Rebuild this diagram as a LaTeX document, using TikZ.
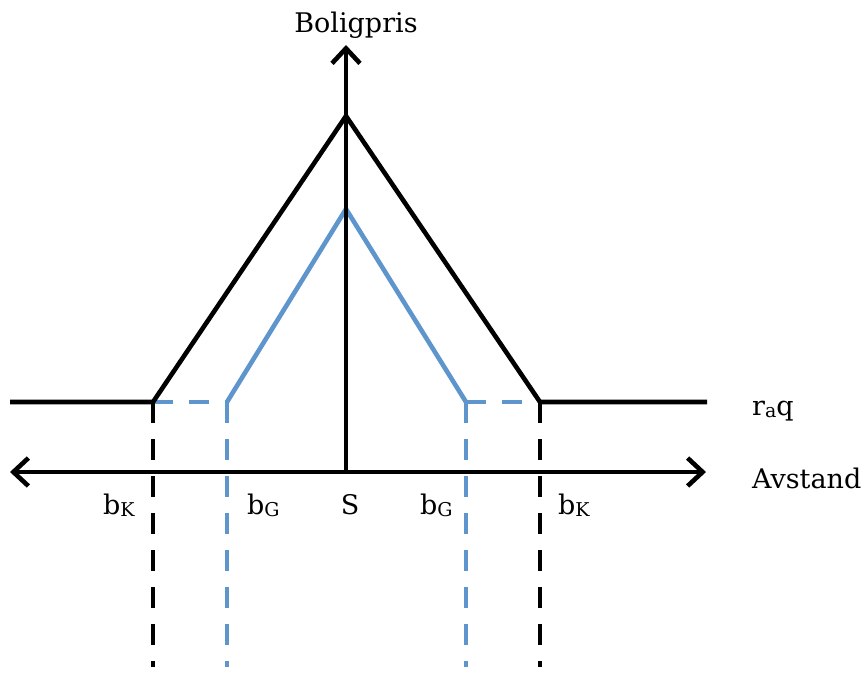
\documentclass[tikz,border=0pt]{standalone}
\usepackage{fontspec}
\setmainfont{DejaVu Serif}
\usetikzlibrary{arrows.meta}
\definecolor{gblue}{RGB}{93,149,204}
\newcommand{\lowsub}[1]{\raisebox{-2.5pt}{\fontsize{19}{19}\selectfont #1}}
\begin{document}
\begin{tikzpicture}[x=1pt,y=-1pt,
  axisline/.style={line width=4.6pt,line cap=butt},
  tipone/.style={axisline,-{Straight Barb[length=15pt,width=28pt]}},
  tiptwo/.style={axisline,{Straight Barb[length=15pt,width=28pt]}-{Straight Barb[length=15pt,width=28pt]}},
  kline/.style={line width=4.6pt,line join=miter},
  gline/.style={line width=4.6pt,gblue,line join=miter},
  kdash/.style={line width=4.6pt,dash pattern=on 21pt off 16pt},
  gdash/.style={line width=4.6pt,gblue,dash pattern=on 21pt off 16pt},
  hdash/.style={line width=4.6pt,gblue,dash pattern=on 20pt off 16pt},
  lbl/.style={font=\fontsize{27}{30}\selectfont,inner sep=0pt}]
\useasboundingbox (0,0) rectangle (861,673);
% coordinates
\coordinate (O) at (346,472);
\coordinate (Top) at (346,45);
\coordinate (L) at (10,472);
\coordinate (R) at (706,472);
\coordinate (Kpk) at (346,116);
\coordinate (Gpk) at (346,209);
\coordinate (KL) at (153,402);
\coordinate (KR) at (540,402);
\coordinate (GL) at (227,402);
\coordinate (GR) at (466,402);
\coordinate (Lend) at (10,402);
\coordinate (Rend) at (707,402);
\coordinate (KLb) at (153,667);
\coordinate (KRb) at (540,667);
\coordinate (GLb) at (227,667);
\coordinate (GRb) at (466,667);
% blue horizontal dashes
\draw[hdash] (KL) -- (GL);
\draw[hdash] (GR) -- (KR);
% vertical dashed lines
\draw[kdash] (KL) -- (KLb);
\draw[kdash] (KR) -- (KRb);
\draw[gdash] (GL) -- (GLb);
\draw[gdash] (GR) -- (GRb);
% curves
\draw[gline] (GL) -- (Gpk) -- (GR);
\draw[kline] (Lend) -- (KL) -- (Kpk) -- (KR) -- (Rend);
% axes
\draw[tiptwo] (L) -- (R);
\draw[tipone] (O) -- (Top);
% labels
\node[lbl,anchor=base] (ylab) at (356,32) {Boligpris};
\node[lbl,anchor=base west] (raq) at (752,415) {r\lowsub{a}q};
\node[lbl,anchor=base west] (xlab) at (752,488) {Avstand};
\node[lbl,anchor=base west] (bk1) at (103,514) {b\lowsub{K}};
\node[lbl,anchor=base west] (bg1) at (247,514) {b\lowsub{G}};
\node[lbl,anchor=base] (S) at (350,514) {S};
\node[lbl,anchor=base west] (bg2) at (420,514) {b\lowsub{G}};
\node[lbl,anchor=base west] (bk2) at (558,514) {b\lowsub{K}};
\end{tikzpicture}
\end{document}
